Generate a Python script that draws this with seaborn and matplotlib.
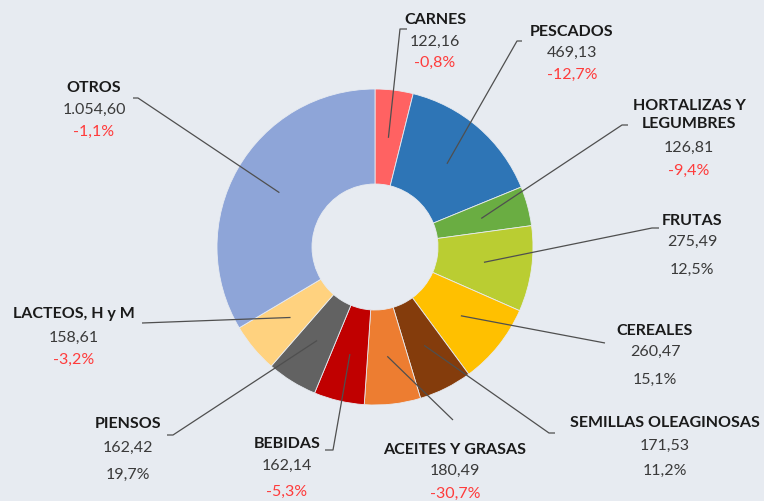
import numpy as np
import matplotlib
matplotlib.use("Agg")
import matplotlib.pyplot as plt
import seaborn as sns

categories = ['CARNES', 'PESCADOS', 'HORTALIZAS Y\nLEGUMBRES', 'FRUTAS', 'CEREALES',
              'SEMILLAS OLEAGINOSAS', 'ACEITES Y GRASAS', 'BEBIDAS', 'PIENSOS',
              'LACTEOS, H y M', 'OTROS']
values = [122.16, 469.13, 126.81, 275.49, 260.47, 171.53, 180.49, 162.14, 162.42, 158.61, 1054.60]
changes = [-0.8, -12.7, -9.4, 12.5, 15.1, 11.2, -30.7, -5.3, 19.7, -3.2, -1.1]
colors = ['#FF6262', '#2E75B6', '#6AAD42', '#BACD32', '#FFC000', '#843C0C',
          '#ED7D31', '#C00000', '#626262', '#FFD27F', '#8EA5D8']

bg = '#E7EBF1'
H = 502

sns.set_style('white')
plt.rcParams['font.family'] = ['Lato', 'DejaVu Sans']

fig = plt.figure(figsize=(7.64, 5.02), dpi=100, facecolor=bg)
ax = fig.add_axes([0, 0, 1, 1])
ax.set_facecolor(bg)

cx, cy, R = 375, H - 248, 158
wedges, _ = ax.pie(values, colors=colors, startangle=90, counterclock=False,
                   center=(cx, cy), radius=R, frame=True,
                   wedgeprops=dict(width=95, edgecolor=bg, linewidth=0.6))
ax.set_xlim(0, 764)
ax.set_ylim(0, H)
ax.set_aspect('equal')
ax.axis('off')


def fmt_num(v):
    s = f"{v:,.2f}"
    return s.replace(',', 'X').replace('.', ',').replace('X', '.')


def fmt_pct(v):
    return f"{v:.1f}%".replace('.', ',')


# label layout: text center x, title y, value y, pct y, elbow point, tick end x
layout = [
    (435, 20, 42, 63, (400, 30), 407),
    (572, 32, 53, 75, (517, 42), 522),
    (689, 115, 148, 171, (622, 126), 628),
    (692, 221, 242, 270, (652, 229), 659),
    (655, 331, 352, 380, (605, 344), 605),
    (665, 423, 446, 471, (549, 434), 555),
    (455, 450, 471, 494, (453, 421), 453),
    (287, 444, 466, 492, (333, 451), 325),
    (128, 424, 448, 475, (173, 436), 167),
    (74, 314, 338, 360, (142, 324), 142),
    (94, 88, 110, 132, (138, 99), 133),
]

rmid = 110
for w, cat, val, ch, (tx, ty, vy, py, elbow, tickx) in zip(wedges, categories, values, changes, layout):
    ang = np.deg2rad((w.theta1 + w.theta2) / 2)
    ix, iy = cx + rmid * np.cos(ang), cy + rmid * np.sin(ang)
    ex, ey = elbow
    ax.plot([tickx, ex, ix], [H - ey, H - ey, iy], color='#4F4F4F', lw=0.9,
            solid_capstyle='butt', zorder=3)
    ax.text(tx, H - ty, cat, ha='center', va='center', fontsize=11.5,
            fontweight='bold', color='#1A1A1A', linespacing=1.4)
    ax.text(tx, H - vy, fmt_num(val), ha='center', va='center', fontsize=11.5,
            color='#3A3A3A')
    ax.text(tx, H - py, fmt_pct(ch), ha='center', va='center', fontsize=11.5,
            color='#FF3B3B' if ch < 0 else '#3A3A3A')

fig.savefig('out.png', dpi=100, facecolor=bg)
